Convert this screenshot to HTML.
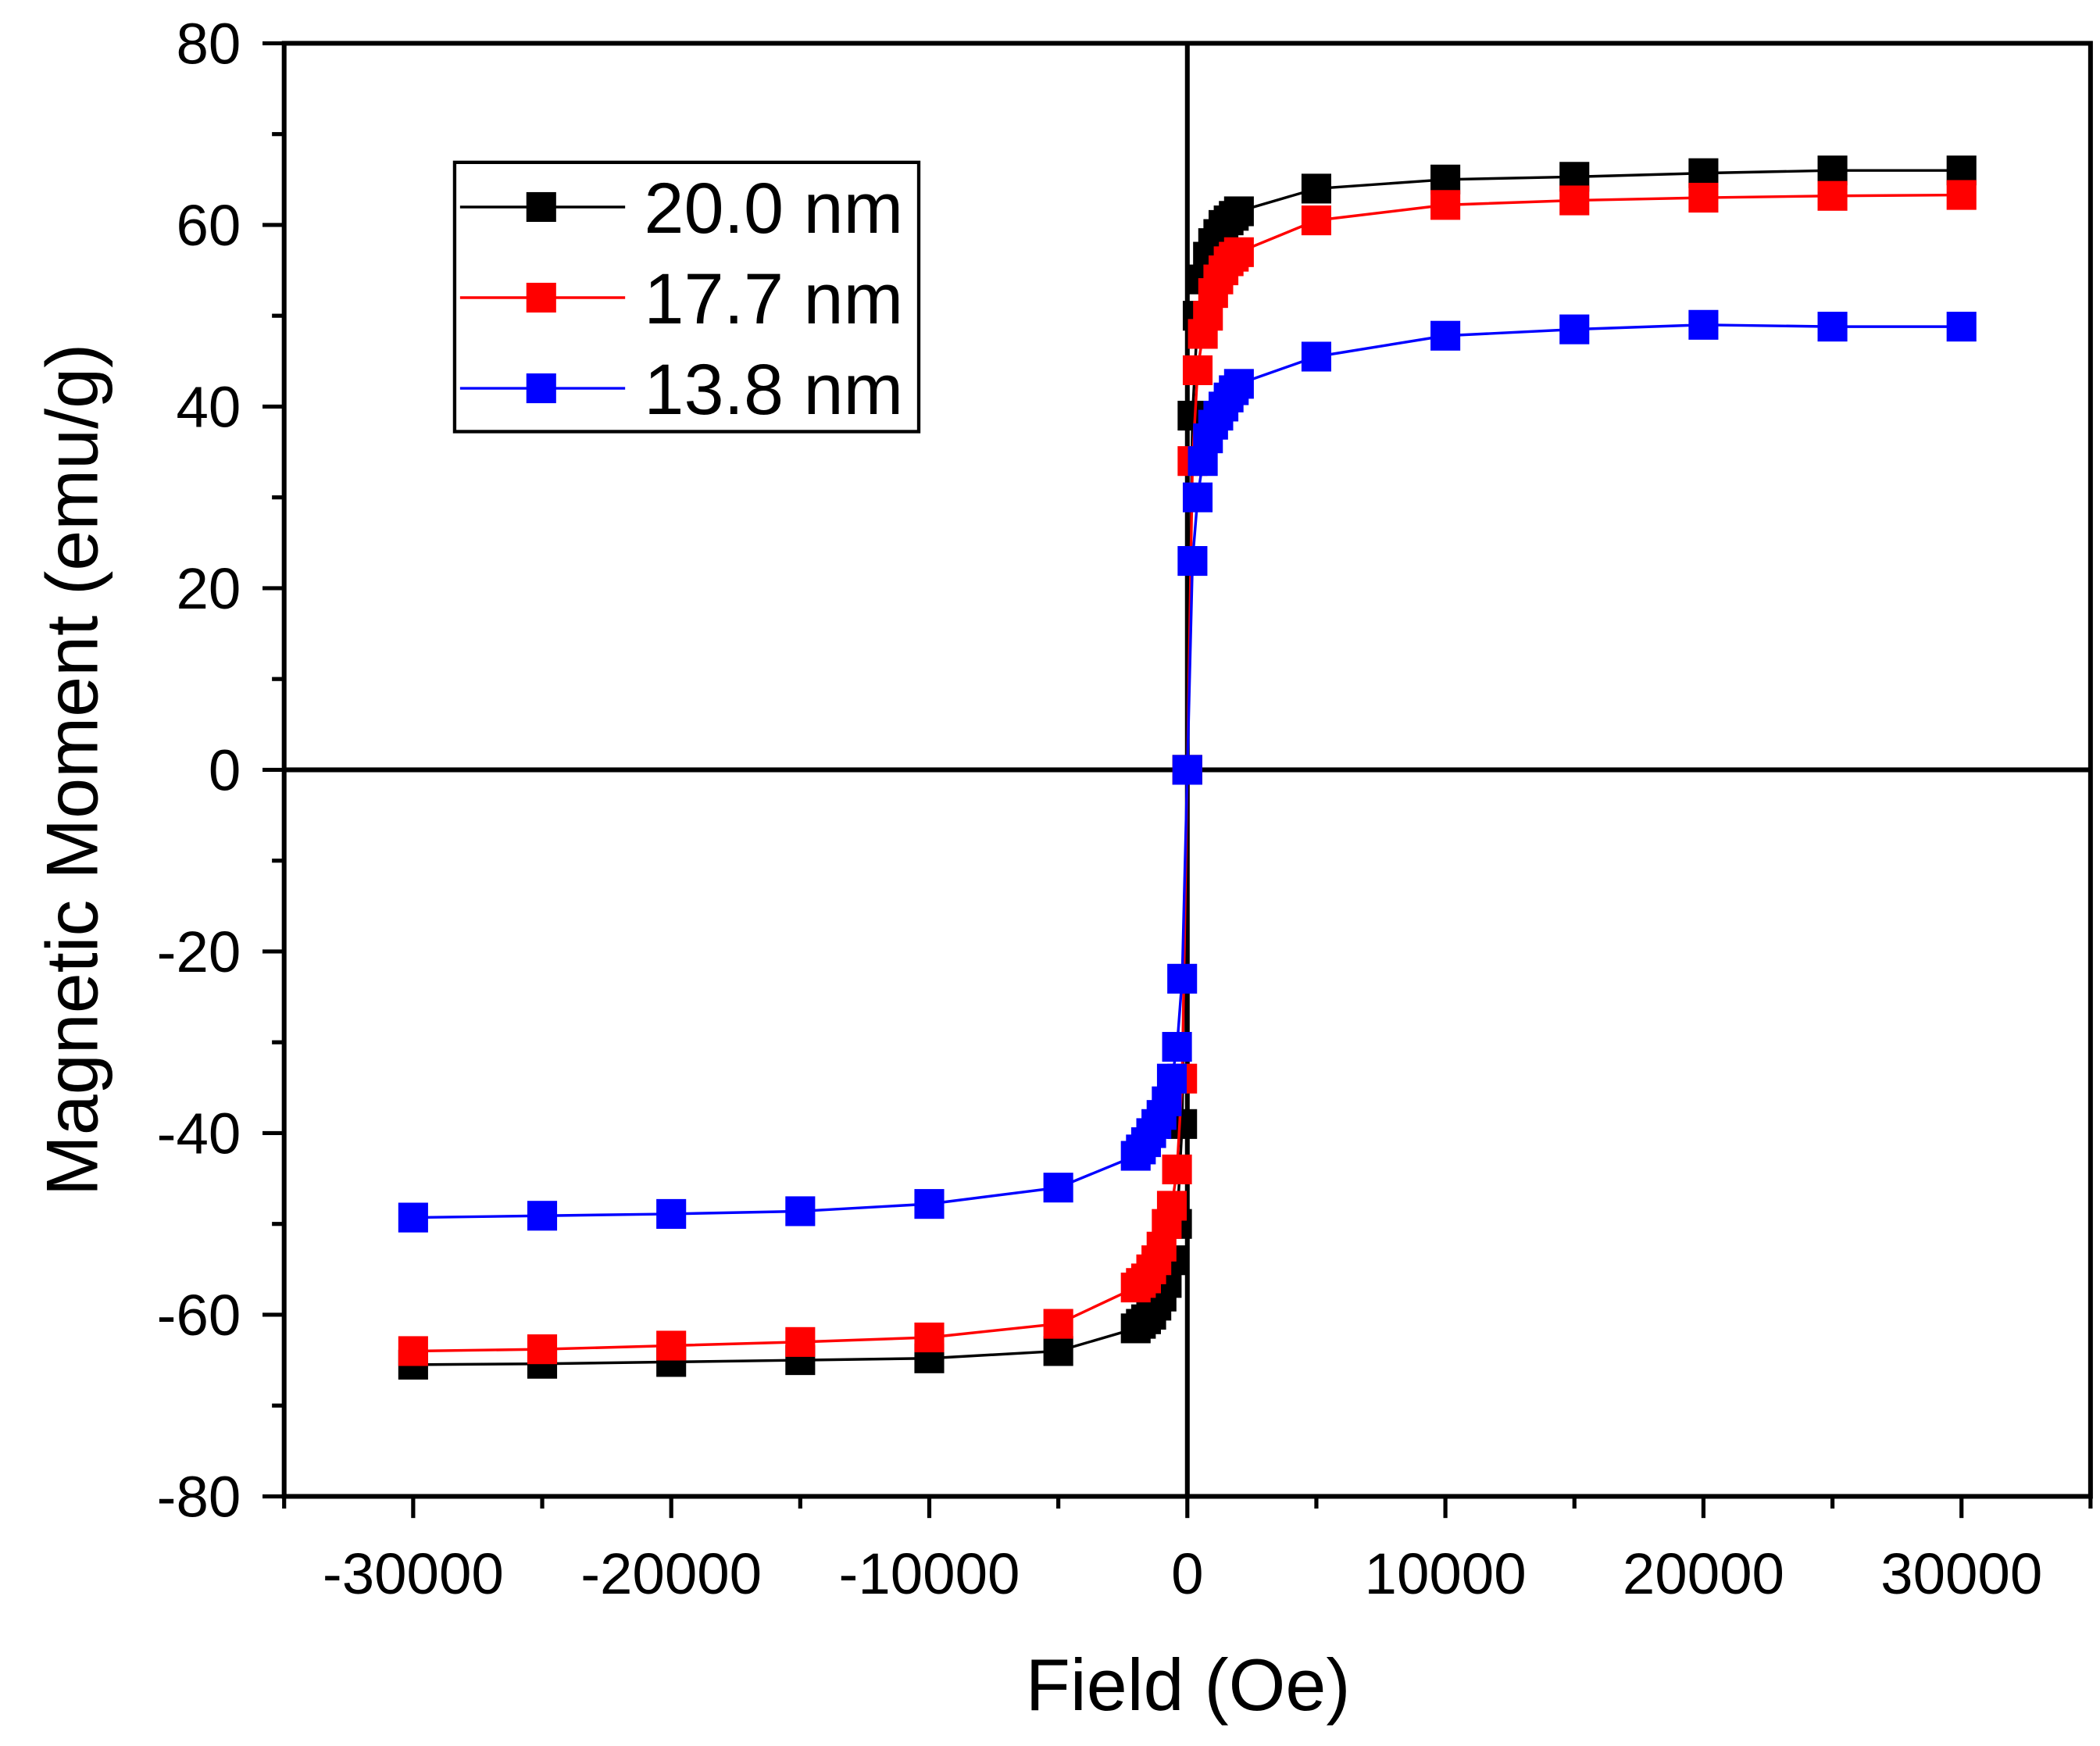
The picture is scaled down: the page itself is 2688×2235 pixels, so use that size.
<!DOCTYPE html>
<html><head><meta charset="utf-8"><style>
html,body{margin:0;padding:0;background:#fff}
svg{display:block;font-family:"Liberation Sans",Arial,sans-serif}
</style></head><body>
<svg id="chart" width="2688" height="2235" viewBox="0 0 1552 1290.5" preserveAspectRatio="none" xmlns="http://www.w3.org/2000/svg">
<g id="axes"></g>
<g id="series"></g>
<g id="legend"></g>
</svg>
<script>
const fields=[-30000,-25000,-20000,-15000,-10000,-5000,-2000,-1800,-1600,-1400,-1200,-1000,-800,-600,-400,-200,0,200,400,600,800,1000,1200,1400,1600,1800,2000,5000,10000,15000,20000,25000,30000];
const black=[-65.5,-65.4,-65.2,-65,-64.8,-64,-61.5,-61,-60.5,-60,-59,-58,-56.5,-54,-50,-39,0,39,50,54,56.5,58,59,60,60.5,61,61.5,64,65,65.3,65.7,66,66];
const red=[-64,-63.8,-63.4,-63,-62.5,-61,-57,-56.5,-56,-55,-54,-52.5,-50,-48,-44,-34,0,34,44,48,50,52.5,54,55,56,56.5,57,60.5,62.2,62.7,63,63.2,63.3];
const blue=[-49.3,-49.1,-48.9,-48.6,-47.8,-46,-42.5,-41.8,-41,-40,-39,-38,-36.5,-34,-30.5,-23,0,23,30,34,36.5,38,39,40,41,41.8,42.5,45.5,47.8,48.5,49,48.8,48.8];
const xTicks=[-30000,-20000,-10000,0,10000,20000,30000];
const yTicks=[-80,-60,-40,-20,0,20,40,60,80];
const seriesNames=["20.0 nm","17.7 nm","13.8 nm"];
const colors=["#000000","#ff0000","#0000ff"];

const L=210,R=1545,T=32,B=1106,XMIN=-35000,XMAX=35000,YMIN=-80,YMAX=80;
const sx=v=>L+(v-XMIN)/(XMAX-XMIN)*(R-L);
const sy=v=>B-(v-YMIN)/(YMAX-YMIN)*(B-T);
const NS="http://www.w3.org/2000/svg";
function mk(tag,attrs,parent){const e=document.createElementNS(NS,tag);for(const k in attrs)e.setAttribute(k,attrs[k]);parent.appendChild(e);return e;}
const ax=document.getElementById('axes');
let e;
e=mk('rect',{x:L,y:T,width:R-L,height:B-T,fill:'none',stroke:'#000','stroke-width':3.5},ax);


e=mk('line',{x1:sx(0),x2:sx(0),y1:T,y2:B,stroke:'#000','stroke-width':3.5},ax);


e=mk('line',{x1:L,x2:R,y1:sy(0),y2:sy(0),stroke:'#000','stroke-width':3.5},ax);


for(let v=-35000;v<=35000;v+=5000){
  const major=v%10000===0;
  e=mk('line',{x1:sx(v),x2:sx(v),y1:B,y2:B+(major?16:9),stroke:'#000','stroke-width':3},ax);
  
  
}
xTicks.forEach(v=>{
  e=mk('text',{x:sx(v),y:1178,'font-size':43,'text-anchor':'middle'},ax);
  e.textContent=String(v);
  
  
});
for(let v=-80;v<=80;v+=10){
  const major=v%20===0;
  e=mk('line',{x1:L,x2:L-(major?16:9),y1:sy(v),y2:sy(v),stroke:'#000','stroke-width':3},ax);
  
  
}
yTicks.forEach(v=>{
  e=mk('text',{x:178,y:sy(v)+15,'font-size':43,'text-anchor':'end'},ax);
  e.textContent=String(v);
  
  
});
e=mk('text',{x:878,y:1264,'font-size':54,'text-anchor':'middle'},ax);
e.textContent='Field (Oe)';


e=mk('text',{x:0,y:0,'font-size':54,'text-anchor':'middle',transform:'translate(72,569) rotate(-90)'},ax);
e.textContent='Magnetic Moment (emu/g)';



const sg=document.getElementById('series');
const S=22;
[black,red,blue].forEach((vals,i)=>{
  const g=mk('g',{},sg);
  
  
  const pts=fields.map((f,j)=>sx(f)+','+sy(vals[j])).join(' ');
  e=mk('polyline',{points:pts,fill:'none',stroke:colors[i],'stroke-width':2},g);
  
  
  fields.forEach((f,j)=>{
    e=mk('rect',{x:sx(f)-S/2,y:sy(vals[j])-S/2,width:S,height:S,fill:colors[i]},g);
    
    
  });
});

const lg=document.getElementById('legend');
e=mk('rect',{x:336,y:120,width:343,height:199,fill:'#fff',stroke:'#000','stroke-width':2.5},lg);


seriesNames.forEach((n,i)=>{
  const y=153+i*67;
  const g=mk('g',{},lg);
  
  
  mk('line',{x1:340,x2:462,y1:y,y2:y,stroke:colors[i],'stroke-width':2},g);
  mk('rect',{x:400-S/2,y:y-S/2,width:S,height:S,fill:colors[i]},g);
  e=mk('text',{x:476,y:y+19,'font-size':53},g);
  e.textContent=n;
});
</script>
</body></html>
